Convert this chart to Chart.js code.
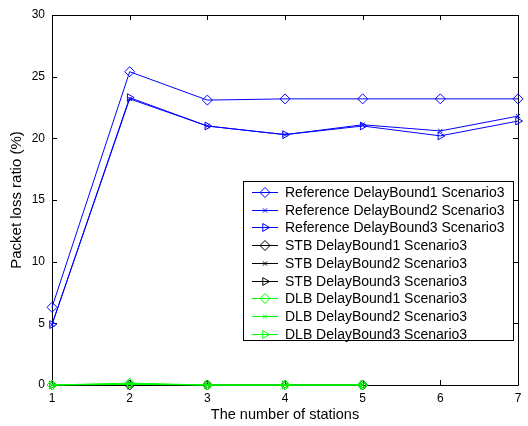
<!DOCTYPE html>
<html>
<head>
<meta charset="utf-8">
<script src="https://cdn.jsdelivr.net/npm/chart.js@4/dist/chart.umd.min.js"></script>
<style>
  html, body { margin: 0; padding: 0; background: #fff; }
  canvas { display: block; }
</style>
</head>
<body>
<canvas id="c" width="528" height="426"></canvas>
<script>
// ---- data ----
const stations = [1, 2, 3, 4, 5, 6, 7];
const xTicks = [1, 2, 3, 4, 5, 6, 7];
const yTicks = [0, 5, 10, 15, 20, 25, 30];

const refDB1 = [6.3, 25.4, 23.1, 23.2, 23.2, 23.2, 23.2];
const refDB2 = [4.9, 23.2, 21.0, 20.3, 21.1, 20.6, 21.8];
const refDB3 = [4.9, 23.3, 21.0, 20.3, 21.0, 20.2, 21.4];
const stbDB1 = [0, 0, 0, 0, 0];
const stbDB2 = [0, 0, 0, 0, 0];
const stbDB3 = [0, 0, 0, 0, 0];
const dlbDB1 = [0, 0.15, 0, 0, 0];
const dlbDB2 = [0, 0.1, 0, 0, 0];
const dlbDB3 = [0, 0.05, 0, 0, 0];

const labels = [
  'Reference DelayBound1 Scenario3',
  'Reference DelayBound2 Scenario3',
  'Reference DelayBound3 Scenario3',
  'STB DelayBound1 Scenario3',
  'STB DelayBound2 Scenario3',
  'STB DelayBound3 Scenario3',
  'DLB DelayBound1 Scenario3',
  'DLB DelayBound2 Scenario3',
  'DLB DelayBound3 Scenario3'
];
const seriesValues = [refDB1, refDB2, refDB3, stbDB1, stbDB2, stbDB3, dlbDB1, dlbDB2, dlbDB3];
const colors = ['#0000ff', '#0000ff', '#0000ff', '#000000', '#000000', '#000000', '#00ff00', '#00ff00', '#00ff00'];
const markers = [
  { style: 'rectRot', rot: 0, r: 5 },
  { style: 'crossRot', rot: 0, r: 3 },
  { style: 'triangle', rot: 90, r: 4.5 }
];

const FAMILY = 'Arial, "Liberation Sans", Helvetica, sans-serif';
const TICK_FONT = { family: FAMILY, size: 12 };
const XTITLE_FONT = { family: FAMILY, size: 14.5 };
const YTITLE_FONT = { family: FAMILY, size: 15 };
const LEGEND_FONT_SIZE = 14;

const datasets = seriesValues.map((vals, i) => {
  const m = markers[i % 3];
  return {
    label: labels[i],
    data: vals.map((v, k) => ({ x: stations[k], y: v })),
    borderColor: colors[i],
    backgroundColor: 'rgba(0,0,0,0)',
    borderWidth: 1,
    pointStyle: m.style,
    pointRotation: m.rot,
    pointRadius: m.r,
    pointBorderWidth: 1,
    pointBorderColor: colors[i],
    pointBackgroundColor: 'rgba(0,0,0,0)',
    tension: 0,
    clip: false,
    order: seriesValues.length - i
  };
});

const framePlugin = {
  id: 'frame',
  beforeDatasetsDraw(chart) {
    const { ctx, chartArea: a, scales } = chart;
    ctx.save();
    ctx.strokeStyle = '#000';
    ctx.lineWidth = 1;
    ctx.beginPath();
    ctx.rect(Math.round(a.left) + 0.5, Math.round(a.top) + 0.5,
             Math.round(a.right - a.left), Math.round(a.bottom - a.top));
    ctx.stroke();
    const L = 5;
    ctx.beginPath();
    xTicks.forEach(v => {
      const x = Math.round(scales.x.getPixelForValue(v)) + 0.5;
      ctx.moveTo(x, a.bottom); ctx.lineTo(x, a.bottom - L);
      ctx.moveTo(x, a.top); ctx.lineTo(x, a.top + L);
    });
    yTicks.forEach(v => {
      const y = Math.round(scales.y.getPixelForValue(v)) + 0.5;
      ctx.moveTo(a.left, y); ctx.lineTo(a.left + L, y);
      ctx.moveTo(a.right, y); ctx.lineTo(a.right - L, y);
    });
    ctx.stroke();
    ctx.restore();
  }
};

const legendPlugin = {
  id: 'boxLegend',
  afterDatasetsDraw(chart) {
    const { ctx } = chart;
    const bx = 243.5, by = 181.5, bw = 270, bh = 159;
    ctx.save();
    ctx.fillStyle = '#fff';
    ctx.fillRect(bx, by, bw, bh);
    ctx.strokeStyle = '#000';
    ctx.lineWidth = 1;
    ctx.strokeRect(bx, by, bw, bh);
    ctx.font = LEGEND_FONT_SIZE + 'px ' + FAMILY;
    ctx.textBaseline = 'middle';
    ctx.textAlign = 'left';
    chart.data.datasets.forEach((ds, i) => {
      const y = Math.round(192 + i * 17.7) + 0.5;
      ctx.strokeStyle = ds.borderColor;
      ctx.lineWidth = 1;
      ctx.beginPath();
      ctx.moveTo(252, y); ctx.lineTo(278, y);
      ctx.stroke();
      ctx.fillStyle = 'rgba(0,0,0,0)';
      Chart.helpers.drawPoint(ctx, {
        pointStyle: ds.pointStyle,
        rotation: ds.pointRotation,
        radius: ds.pointRadius,
        borderWidth: 1
      }, 265, y);
      ctx.fillStyle = '#000';
      ctx.fillText(ds.label, 285, y + 0.5);
    });
    ctx.restore();
  }
};

new Chart(document.getElementById('c'), {
  type: 'line',
  data: { datasets },
  options: {
    responsive: false,
    animation: false,
    layout: { padding: { left: 0, top: 15, right: 10, bottom: 0 } },
    plugins: { legend: { display: false }, tooltip: { enabled: false } },
    scales: {
      x: {
        type: 'linear',
        min: 1, max: 7,
        afterBuildTicks: s => { s.ticks = xTicks.map(v => ({ value: v })); },
        afterFit: s => { s.height = 41; },
        grid: { display: false, drawTicks: false },
        border: { display: false },
        ticks: { color: '#000', font: TICK_FONT, padding: 6, maxRotation: 0 },
        title: { display: true, text: 'The number of stations', color: '#000', font: XTITLE_FONT, padding: { top: 0, bottom: 2 } }
      },
      y: {
        type: 'linear',
        min: 0, max: 30,
        afterBuildTicks: s => { s.ticks = yTicks.map(v => ({ value: v })); },
        afterFit: s => { s.width = 52; },
        grid: { display: false, drawTicks: false },
        border: { display: false },
        ticks: { color: '#000', font: TICK_FONT, padding: 7 },
        title: { display: true, text: 'Packet loss ratio (%)', color: '#000', font: YTITLE_FONT, padding: { top: 8, bottom: 0 } }
      }
    }
  },
  plugins: [framePlugin, legendPlugin]
});
</script>
</body>
</html>
